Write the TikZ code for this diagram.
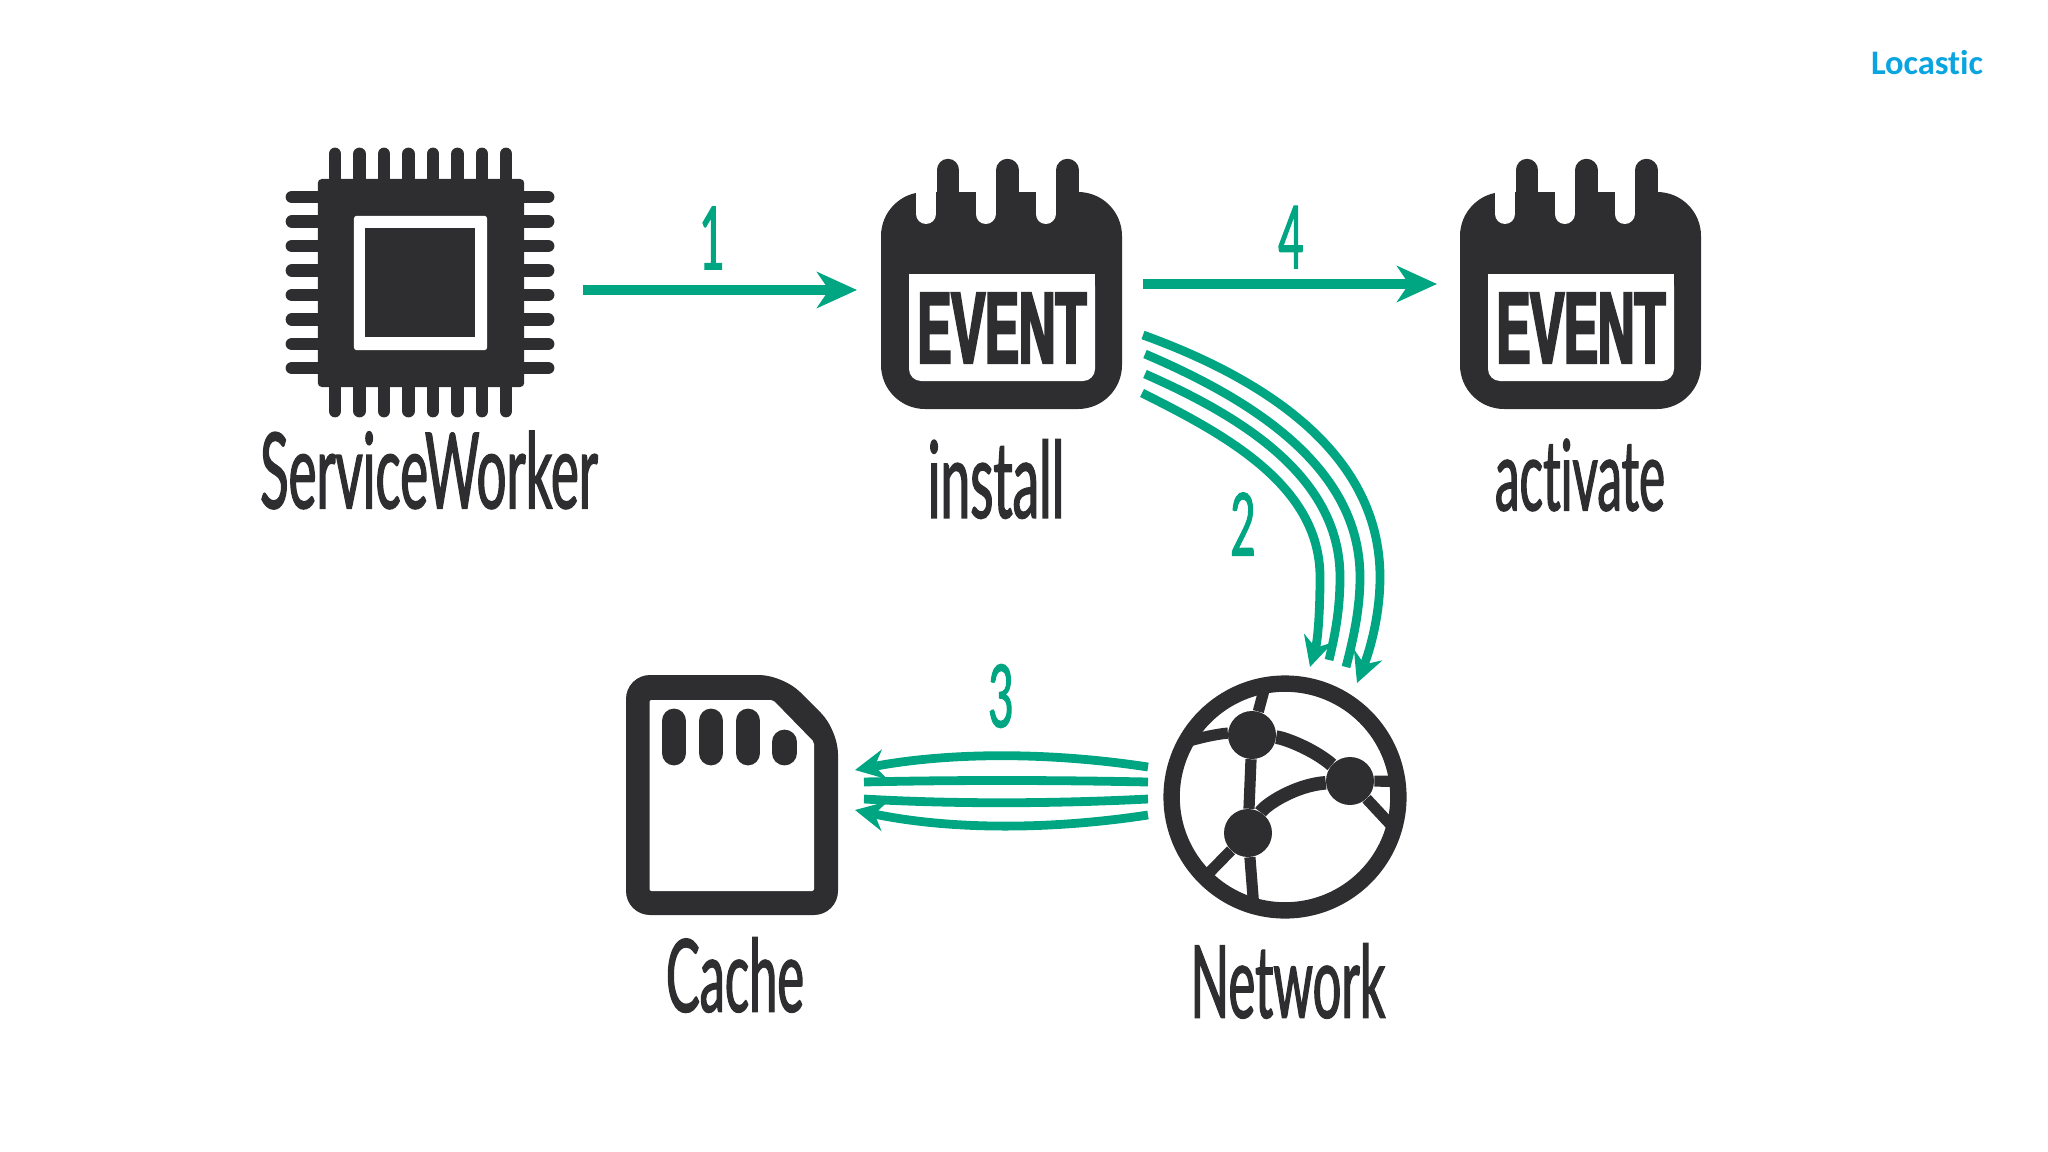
\documentclass[tikz,border=0pt]{standalone}
\usepackage{fontspec}
\usetikzlibrary{arrows.meta}
\newfontfamily\handfont[FakeStretch=0.5,FakeBold=1.2,Ligatures=NoCommon]{Lato}
\newfontfamily\eventfont[FakeStretch=0.5,FakeBold=2.5]{Liberation Sans Bold}
\newfontfamily\logofont[Ligatures=NoCommon]{Carlito Bold}
\definecolor{ink}{HTML}{2E2E30}
\definecolor{flow}{HTML}{00A682}
\definecolor{brand}{HTML}{0AA5E0}
\tikzset{>={Stealth[length=10mm,width=9mm,inset=3mm]}}
\tikzset{
  hand/.style={font=\handfont\fontsize{#1}{#1}\selectfont, text=ink, inner sep=0pt},
  numeral/.style={font=\handfont\fontsize{62}{62}\selectfont, text=flow, inner sep=0pt},
  flowline/.style={draw=flow, line width=2.5mm},
  bundle/.style={draw=flow, line width=2.2mm,
    >={Stealth[length=7.5mm,width=7.5mm,inset=2.5mm]}},
  pin/.style={draw=ink, line width=3.2mm, line cap=round},
  contact/.style={draw=ink, line width=6.2mm, line cap=round},
  link/.style={draw=ink, line width=2.8mm},
  ball/.style={circle, fill=ink, minimum size=12mm, inner sep=0pt},
}
\begin{document}
\begin{tikzpicture}[x=0.25mm,y=-0.25mm]
  \useasboundingbox (0,0) rectangle (2048,1152);
  \node[font=\logofont\fontsize{24.5}{24.5}\selectfont, text=brand, inner sep=0pt] (logo) at (1927,63) {Locastic};

  % chip
  \foreach \x in {335,359.5,384,408.5,433,457.5,482,506}
    \draw[pin] (\x,154) -- (\x,411);
  \foreach \y in {197,221.5,246,270.5,295,319.5,344,368}
    \draw[pin] (292,\y) -- (548,\y);
  \node[fill=ink, rounded corners=1mm, minimum width=51.6mm, minimum height=52mm, inner sep=0pt] (chip) at (421,283) {};
  \node[fill=white, rounded corners=0.7mm, minimum width=33.3mm, minimum height=33.6mm, inner sep=0pt] (chipframe) at (420.5,283) {};
  \node[fill=ink, minimum width=27.5mm, minimum height=27.4mm, inner sep=0pt] (chipcore) at (420,282.5) {};
  \node[hand=75] (workerlabel) at (429,470) {ServiceWorker};

  % calendars
  \foreach \calx/\calname in {0/install,579/activate} {
    \begin{scope}[shift={(\calx,0)}]
      \fill[ink, rounded corners=11mm] (881,192) rectangle (1122,409);
      \foreach \x in {948,1007.5,1067.5} {
        \draw[draw=ink, line width=5.6mm, line cap=round] (\x,170) -- (\x,200);
        \draw[draw=white, line width=5mm, line cap=round] (\x-22,170) -- (\x-22,214);
      }
      \fill[white, rounded corners=3mm] (909,274) -- (1095,274) -- (1095,381) -- (909,381) -- cycle;
      \fill[white] (909,274) rectangle (1095,300);
      \node[font=\eventfont\fontsize{72}{72}\selectfont, text=ink, inner sep=0pt] (\calname) at (1002,328) {EVENT};
    \end{scope}
  }
  \node[hand=76] (installlabel) at (996,479) {install};
  \node[hand=70] (activatelabel) at (1580,475) {activate};

  % sd card
  \fill[ink, rounded corners=6mm] (626,675) -- (783,675) -- (838,730) -- (838,915) -- (626,915) -- cycle;
  \fill[white, rounded corners=0.5mm] (649.5,700) -- (773,700) -- (814,742) -- (814,891) -- (649.5,891) -- cycle;
  \foreach \x in {674,711,748}
    \draw[contact] (\x,721) -- (\x,753);
  \draw[contact] (784.5,742) -- (784.5,753);
  \node[inner sep=0pt, minimum width=53mm, minimum height=60mm] (cache) at (732,795) {};
  \node[hand=72] (cachelabel) at (735,975) {Cache};

  % globe
  \node[circle, draw=ink, line width=4.1mm, minimum size=56.7mm, inner sep=0pt, outer sep=0pt] (network) at (1285,797) {};
  \node[ball] (balla) at (1252,735) {};
  \node[ball] (ballb) at (1350,781) {};
  \node[ball] (ballc) at (1248,833) {};
  \draw[link] (balla) -- (network.100);
  \draw[link] (balla) .. controls (1225,733) and (1205,736) .. (network.151);
  \draw[link] (balla) -- (ballc);
  \draw[link, line width=3.4mm] (balla) .. controls (1285,738) and (1315,750) .. (ballb);
  \draw[link, line width=3.4mm] (ballc) .. controls (1265,805) and (1295,785) .. (ballb);
  \draw[link] (ballb) -- (network.8);
  \draw[link] (ballb) -- (network.-16);
  \draw[link] (ballc) -- (network.225);
  \draw[link] (ballc) -- (network.254);
  \node[hand=72] (networklabel) at (1288,981) {Network};

  % arrows
  \coordinate (chipout) at (583,290);
  \coordinate (installin) at (857,290);
  \coordinate (installout) at (1143,284);
  \coordinate (activatein) at (1437,284);
  \draw[flowline,->] (chipout) -- (installin);
  \draw[flowline,->] (installout) -- (activatein);
  \node[numeral] (stepa) at (712,238) {1};
  \node[numeral] (stepd) at (1291,237) {4};

  \coordinate (downa) at (1143,335);
  \coordinate (downb) at (1145,354);
  \coordinate (downc) at (1145,374);
  \coordinate (downd) at (1142,393);
  \coordinate (downe) at (1357,683);
  \coordinate (downf) at (1346,667);
  \coordinate (downg) at (1329,660);
  \coordinate (downh) at (1310,667);
  \draw[bundle,->] (downa) .. controls (1259,377) and (1380,450) .. (1380,577) .. controls (1380,615) and (1370,650) .. (downe);
  \draw[bundle] (downb) .. controls (1248,398) and (1360,465) .. (1360,577) .. controls (1360,610) and (1353,640) .. (downf);
  \draw[bundle] (downc) .. controls (1238,415) and (1340,475) .. (1340,577) .. controls (1340,610) and (1335,635) .. (downg);
  \draw[bundle,->] (downd) .. controls (1224,434) and (1320,485) .. (1320,577) .. controls (1320,610) and (1318,640) .. (downh);
  \node[numeral] (stepb) at (1243,524) {2};

  \coordinate (backa) at (1148,767);
  \coordinate (backb) at (1148,782);
  \coordinate (backc) at (1148,799);
  \coordinate (backd) at (1148,815);
  \coordinate (backe) at (855,770);
  \coordinate (backf) at (864,782);
  \coordinate (backg) at (864,799);
  \coordinate (backh) at (855,810);
  \draw[bundle,->] (backa) .. controls (1050,752) and (950,752) .. (backe);
  \draw[bundle] (backb) .. controls (1050,780) and (950,780) .. (backf);
  \draw[bundle] (backc) .. controls (1050,804) and (950,804) .. (backg);
  \draw[bundle,->] (backd) .. controls (1050,830) and (950,830) .. (backh);
  \node[numeral] (stepc) at (1001,696) {3};
\end{tikzpicture}
\end{document}
